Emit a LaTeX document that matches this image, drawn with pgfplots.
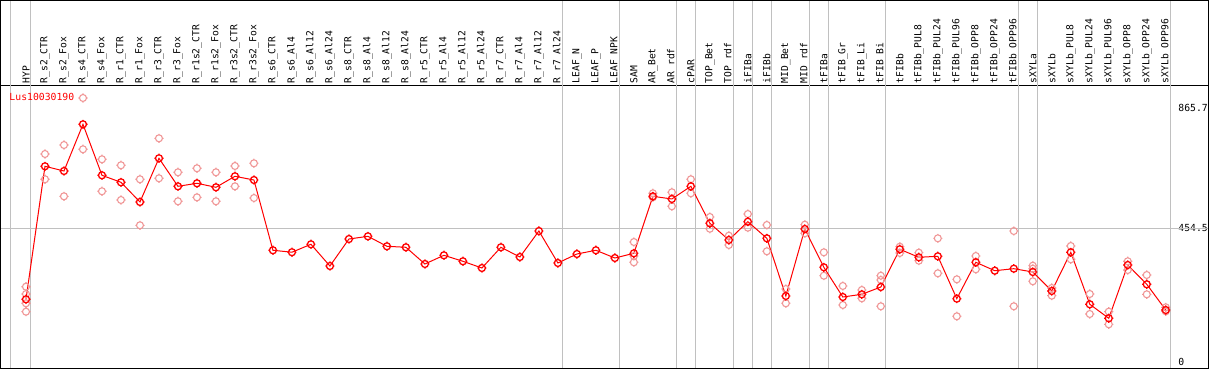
\documentclass[border=0pt]{standalone}
\usepackage{pgfplots}
\pgfplotsset{compat=1.18}
\usepackage{fontspec}
\setmonofont{DejaVu Sans Mono}
\definecolor{repcol}{RGB}{240,150,150}
\definecolor{gridcol}{RGB}{192,192,192}
\pgfdeclareplotmark{ctick}{%
  \pgfpathcircle{\pgfpointorigin}{\pgfplotmarksize}%
  \pgfpathmoveto{\pgfqpoint{\pgfplotmarksize}{0pt}}\pgfpathlineto{\pgfqpoint{1.3\pgfplotmarksize}{0pt}}%
  \pgfpathmoveto{\pgfqpoint{-\pgfplotmarksize}{0pt}}\pgfpathlineto{\pgfqpoint{-1.3\pgfplotmarksize}{0pt}}%
  \pgfpathmoveto{\pgfqpoint{0pt}{\pgfplotmarksize}}\pgfpathlineto{\pgfqpoint{0pt}{1.3\pgfplotmarksize}}%
  \pgfpathmoveto{\pgfqpoint{0pt}{-\pgfplotmarksize}}\pgfpathlineto{\pgfqpoint{0pt}{-1.3\pgfplotmarksize}}%
  \pgfusepathqstroke}
\pgfplotstableread{
x y
0 212.6
1 665.7
2 649.7
3 808.8
4 635
5 611.2
6 544.1
7 693
8 597.5
9 607.8
10 594.2
11 631.7
12 619
13 379.6
14 373
15 400
16 326
17 418
18 427.2
19 393.2
20 389.8
21 332.9
22 362.5
23 342.1
24 319.2
25 389.8
26 356.7
27 445.3
28 336.3
29 366.9
30 379.6
31 353.3
32 369.3
33 563.5
34 554.4
35 597.5
36 471.6
37 414.7
38 477
39 420.4
40 223.9
41 452.1
42 321.6
43 220.4
44 229.6
45 254.5
46 383
47 355.7
48 359.1
49 214.7
50 338.7
51 310
52 316.9
53 305.6
54 240.9
55 372.7
56 195.6
57 147.9
58 329.5
59 263.7
60 176.1
}\maindata
\pgfplotstableread{
x y
0 255.5
0 230.7
0 199
0 170.4
1 707.7
1 621.5
2 738.3
2 563.5
3 898.5
3 723.7
4 689.6
4 580.6
5 669.2
5 551
6 621.5
6 464.7
7 761.1
7 624.9
8 645.3
8 546.5
9 659
9 560
10 645.3
10 546.5
11 666.8
11 597.5
12 676
12 557.7
32 407.8
32 338.7
32 360
33 573.8
33 560
34 577.2
34 529.5
35 621.5
35 573.8
36 493
36 453
37 429.3
37 397.6
38 503.2
38 456.6
39 465.8
39 376.2
40 247.7
40 199
41 466.8
41 437.5
42 372.7
42 293
43 258
43 193.2
44 244.3
44 216
45 293
45 278.4
45 188.8
46 391.8
46 370.4
47 371.4
47 344.1
48 420.4
48 301.2
49 280.7
49 154.7
50 360.1
50 314.8
52 445.3
52 188.8
53 327.1
53 317
53 274
54 251.1
54 224.9
55 394.2
55 348.9
56 230.7
56 162.5
57 170.4
57 127.4
58 342.1
58 312.4
59 295.4
59 229.6
60 185.3
60 171.7
}\repdata
\begin{document}
\begin{tikzpicture}
\begin{axis}[
  scale only axis, width=1207.8bp, height=283.4bp,
  xmin=-1.342, xmax=62.237, ymin=-23.85, ymax=941.7,
  clip=false,
  axis line style={black, line width=1bp},
  major tick length=0pt,
  xtick={0,...,60},
  xticklabel pos=upper,
  xticklabels={HYP,R\_s2\_CTR,R\_s2\_Fox,R\_s4\_CTR,R\_s4\_Fox,R\_r1\_CTR,R\_r1\_Fox,R\_r3\_CTR,R\_r3\_Fox,R\_r1s2\_CTR,R\_r1s2\_Fox,R\_r3s2\_CTR,R\_r3s2\_Fox,R\_s6\_CTR,R\_s6\_Al4,R\_s6\_Al12,R\_s6\_Al24,R\_s8\_CTR,R\_s8\_Al4,R\_s8\_Al12,R\_s8\_Al24,R\_r5\_CTR,R\_r5\_Al4,R\_r5\_Al12,R\_r5\_Al24,R\_r7\_CTR,R\_r7\_Al4,R\_r7\_Al12,R\_r7\_Al24,LEAF\_N,LEAF\_P,LEAF\_NPK,SAM,AR\_Bet,AR\_rdf,cPAR,TOP\_Bet,TOP\_rdf,iFIBa,iFIBb,MID\_Bet,MID\_rdf,tFIBa,tFIB\_Gr,tFIB\_Li,tFIB\_Bi,tFIBb,tFIBb\_PUL8,tFIBb\_PUL24,tFIBb\_PUL96,tFIBb\_OPP8,tFIBb\_OPP24,tFIBb\_OPP96,sXYLa,sXYLb,sXYLb\_PUL8,sXYLb\_PUL24,sXYLb\_PUL96,sXYLb\_OPP8,sXYLb\_OPP24,sXYLb\_OPP96},
  xticklabel style={rotate=90, anchor=west, inner sep=2bp, font=\ttfamily\fontsize{9.7}{10}\selectfont},
  ytick={0,454.5,865.7},
  yticklabels={0,454.5,865.7},
  yticklabel pos=right,
  yticklabel style={anchor=west, inner sep=0pt, xshift=-30bp, font=\ttfamily\fontsize{9.8}{10}\selectfont},
]
\draw[gridcol, line width=1bp] (axis cs:-1.342,454.5) -- (axis cs:62.237,454.5);
\foreach \v in {-0.8,0.25,28.25,31.25,34.25,35.25,37.25,38.25,39.25,41.25,42.25,45.25,52.25,53.25,60.25}{
  \edef\tmp{\noexpand\draw[gridcol, line width=1bp] (axis cs:\v,-23.85) -- (axis cs:\v,1230.7);}\tmp
}
\addplot[only marks, mark=ctick, mark size=3.5bp, color=repcol, mark options={line width=1.1bp}] table[x=x,y=y] {\repdata};
\addplot[red, line width=1bp, mark=ctick, mark size=3.5bp, mark options={line width=1.3bp}] table[x=x,y=y] {\maindata};
\node[anchor=west, inner sep=0pt, text=red, font=\ttfamily\fontsize{9.8}{10}\selectfont] at (axis cs:-0.879,900.9) {Lus10030190};
\end{axis}
\draw[black, line width=1bp] (0,0) rectangle (1207.8bp,368.2bp);
\pgfresetboundingbox
\useasboundingbox (-0.5bp,-1.3bp) rectangle (1208.5bp,368.7bp);
\end{tikzpicture}
\end{document}
